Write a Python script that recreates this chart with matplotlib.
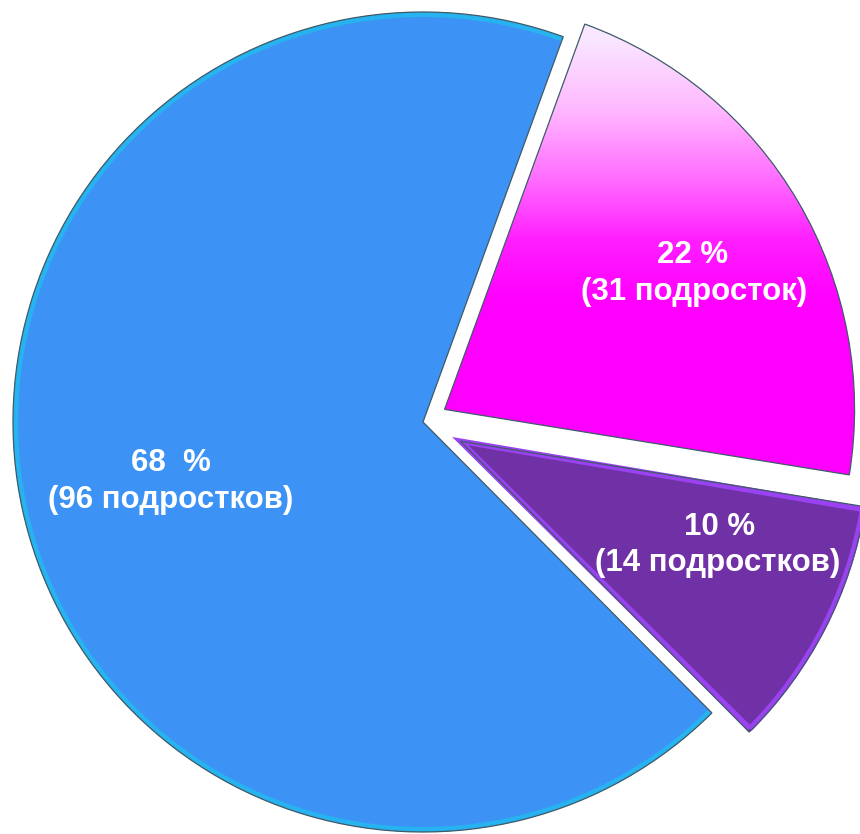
import numpy as np
import matplotlib
matplotlib.use("Agg")
import matplotlib.pyplot as plt
from matplotlib.patches import Wedge

# data
groups = ["68 %", "10 %", "22 %"]
percents = [68, 10, 22]
teens = [96, 14, 31]
count_words = ["подростков", "подростков", "подросток"]
pct_texts = ["68  %", "10 %", "22 %"]

W, H = 860, 834
center = (423, H - 422)
radius = 410
colors = ["#3c93f5", "#7131a6", "#ff00ff"]
explode = [0, 42, 25]

# label anchor points (image pixels, line 1 / line 2)
label_pos = [((171, 463), (171, 500)),
             ((720, 527), (718, 563)),
             ((693, 255), (694, 292))]

fig = plt.figure(figsize=(W / 100, H / 100), dpi=100)
ax = fig.add_axes([0, 0, 1, 1])

wedges, _ = ax.pie(percents, colors=colors, explode=explode, startangle=70,
                   counterclock=True, radius=radius, center=center,
                   wedgeprops=dict(linewidth=0))

blue, purple, pink = wedges

# cyan rim on the blue slice
ax.add_patch(Wedge(blue.center, radius, blue.theta1, blue.theta2, width=5,
                   facecolor="#27b3f0", edgecolor="none", zorder=2))

# lighter bevel around the purple slice
ax.add_patch(Wedge(purple.center, radius - 2, purple.theta1 + 0.4, purple.theta2 - 0.4,
                   facecolor="none", edgecolor="#9a42f2", linewidth=4, zorder=2))

# pink gradient: pale at the top, full magenta lower down
depth = 520
rows = 520
img_y = np.linspace(0, depth, rows)
stops_y = [0, 40, 110, 180, 240, 300, depth]
stops_g = [0.93, 0.90, 0.72, 0.42, 0.12, 0.0, 0.0]
stops_r = [0.96, 0.98, 1.0, 1.0, 1.0, 1.0, 1.0]
g = np.interp(img_y, stops_y, stops_g)
r = np.interp(img_y, stops_y, stops_r)
grad = np.stack([r, g, np.ones_like(g)], axis=1)[:, None, :]
grad = np.repeat(grad, 4, axis=1)
pink.set_facecolor("none")
im = ax.imshow(grad, extent=[430, 880, H - depth, H], origin="upper",
               aspect="auto", interpolation="bilinear", zorder=1)
im.set_clip_path(pink)

# thin dark outlines
for w in wedges:
    ax.add_patch(Wedge(w.center, w.r, w.theta1, w.theta2, facecolor="none",
                       edgecolor="#3f5a68", linewidth=0.9, zorder=3))

for (p1, p2), pct, n, word in zip(label_pos, pct_texts, teens, count_words):
    ax.text(p1[0], H - p1[1], pct, color="white", fontsize=22.5, fontweight="bold",
            family=["Liberation Sans", "DejaVu Sans"], ha="center", va="center", zorder=5)
    ax.text(p2[0], H - p2[1], f"({n} {word})", color="white", fontsize=22.5,
            fontweight="bold", family=["Liberation Sans", "DejaVu Sans"],
            ha="center", va="center", zorder=5)

ax.set_xlim(0, W)
ax.set_ylim(0, H)
ax.set_aspect("equal")
ax.axis("off")

fig.savefig("out.png", dpi=100, facecolor="white")
